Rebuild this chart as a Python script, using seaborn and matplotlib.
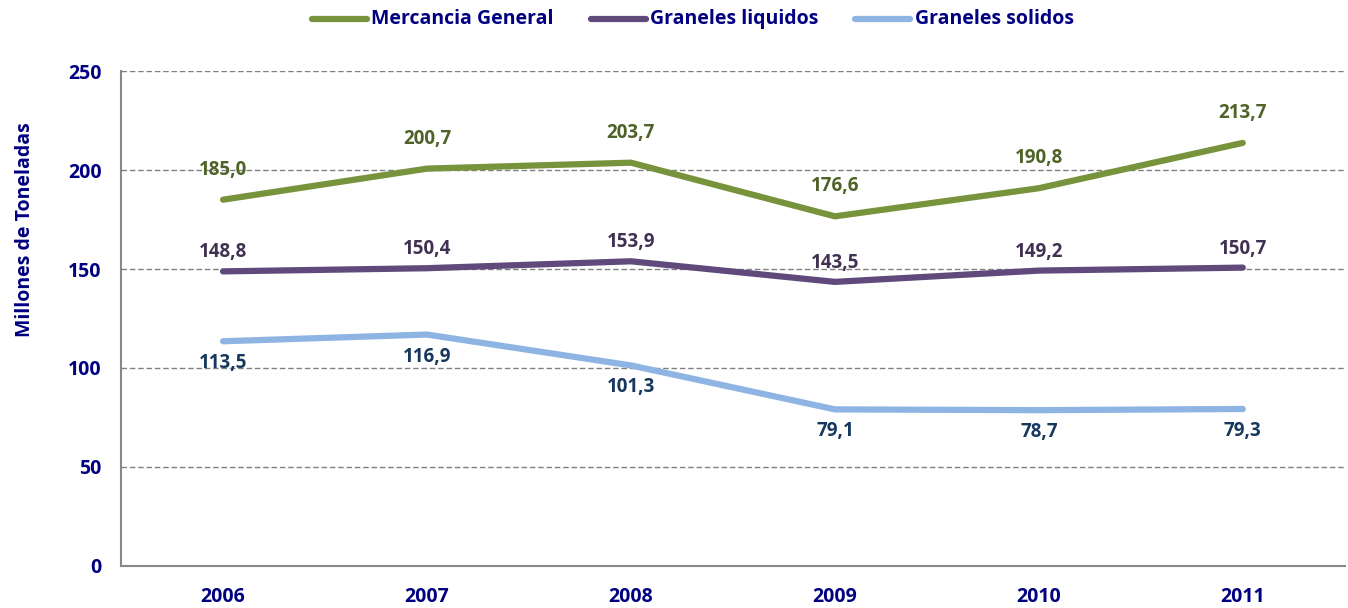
import pandas as pd
import matplotlib.pyplot as plt
import seaborn as sns

sns.set_theme(style='white')
plt.rcParams['font.family'] = ['Open Sans', 'DejaVu Sans']

years = ['2006', '2007', '2008', '2009', '2010', '2011']
mercancia = [185.0, 200.7, 203.7, 176.6, 190.8, 213.7]
liquidos = [148.8, 150.4, 153.9, 143.5, 149.2, 150.7]
solidos = [113.5, 116.9, 101.3, 79.1, 78.7, 79.3]
series = ['Mercancia General', 'Graneles liquidos', 'Graneles solidos']

line_colors = ['#77933C', '#604A7B', '#8EB4E3']
label_colors = ['#4F6228', '#403152', '#17375E']
label_offsets = [-30, -19, 22]
navy = '#000080'

rows = []
for name, vals in zip(series, [mercancia, liquidos, solidos]):
    for i, v in enumerate(vals):
        rows.append({'x': i, 'year': years[i], 'valor': v, 'serie': name})
df = pd.DataFrame(rows)

fig = plt.figure(figsize=(13.48, 6.08), dpi=100)
ax = fig.add_axes([0.0898, 0.0691, 0.9078, 0.8141])

sns.lineplot(data=df, x='x', y='valor', hue='serie', hue_order=series,
             palette=line_colors, linewidth=4.5, ax=ax, legend=False,
             solid_capstyle='round')

for name, col, off in zip(series, label_colors, label_offsets):
    sub = df[df['serie'] == name]
    for _, r in sub.iterrows():
        ax.annotate(f"{r['valor']:.1f}".replace('.', ','), (r['x'], r['valor']),
                    xytext=(0, -off), textcoords='offset pixels',
                    ha='center', va='center', fontsize=13.5, fontweight='bold',
                    color=col)

ax.set_xlim(-0.5, 5.5)
ax.set_ylim(0, 250)
ax.set_yticks(range(0, 251, 50))
ax.set_xticks(range(len(years)))
ax.set_xticklabels(years)
ax.set_xticks([i - 0.5 for i in range(len(years) + 1)], minor=True)
ax.tick_params(axis='x', which='major', length=0, pad=15, labelsize=14,
               labelcolor=navy)
ax.tick_params(axis='x', which='minor', length=8, color='#888888', width=1.2,
               direction='out')
ax.tick_params(axis='y', length=6, color='#888888', width=1.2, direction='out',
               labelsize=14, labelcolor=navy, pad=8)
for lab in ax.get_xticklabels() + ax.get_yticklabels():
    lab.set_fontweight('bold')

ax.yaxis.grid(True, linestyle=(0, (4, 2)), color='#808080', linewidth=1)
ax.set_axisbelow(True)
for s in ['top', 'right']:
    ax.spines[s].set_visible(False)
for s in ['left', 'bottom']:
    ax.spines[s].set_color('#888888')
    ax.spines[s].set_linewidth(1.5)

ax.set_xlabel('')
ax.set_ylabel('Millones de Toneladas', fontsize=14, fontweight='bold',
              color=navy)
ax.yaxis.set_label_coords(-0.0705, 0.68)

handles = [plt.Line2D([0], [0], color=c, linewidth=4.5, solid_capstyle='round')
           for c in line_colors]
leg = fig.legend(handles, series, loc='upper center', bbox_to_anchor=(0.514, 1.008),
                 ncol=3, frameon=False, handlelength=3.6, handletextpad=0.3,
                 columnspacing=2.4)
for t in leg.get_texts():
    t.set_color(navy)
    t.set_fontweight('bold')
    t.set_fontsize(14)

fig.savefig('out.png', dpi=100)
